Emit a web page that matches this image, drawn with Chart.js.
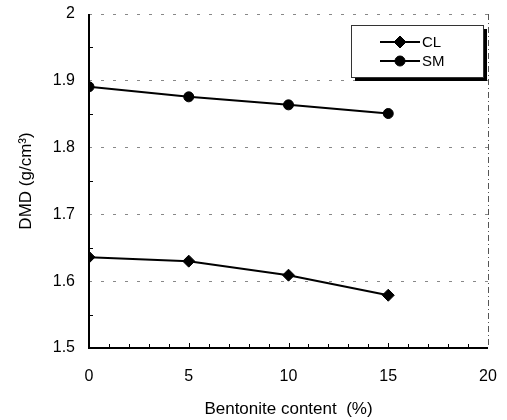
<!DOCTYPE html>
<html>
<head>
<meta charset="utf-8">
<script src="https://cdn.jsdelivr.net/npm/chart.js@4"></script>
<style>
  html, body { margin: 0; padding: 0; background: #fff; }
  #wrap { width: 507px; height: 420px; }
</style>
</head>
<body>
<div id="wrap"><canvas id="dmd-chart" width="507" height="420"></canvas></div>
<script>
// valores
const bentonita = [0, 5, 10, 15];
const dmdCL = [1.636, 1.630, 1.609, 1.579];
const dmdSM = [1.891, 1.876, 1.864, 1.851];
const xTicks = [0, 5, 10, 15, 20];
const yTicks = [1.5, 1.6, 1.7, 1.8, 1.9, 2];

const fonte = "'Liberation Sans', Arial, sans-serif";

function pontos(ys) {
  return bentonita.map((x, i) => ({ x: x, y: ys[i] }));
}

// bordas, tracinhos menores e legenda com sombra
const extras = {
  id: "extras",
  beforeDatasetsDraw(chart) {
    const { ctx, chartArea: a, scales } = chart;
    ctx.save();
    // borda da direita tracejada
    ctx.strokeStyle = "#555";
    ctx.lineWidth = 1;
    ctx.setLineDash([6, 3, 1, 3]);
    ctx.beginPath();
    ctx.moveTo(a.right + 0.5, a.top);
    ctx.lineTo(a.right + 0.5, a.bottom);
    ctx.stroke();
    // eixos esquerdo e inferior
    ctx.setLineDash([]);
    ctx.strokeStyle = "#000";
    ctx.lineWidth = 2;
    ctx.beginPath();
    ctx.moveTo(a.left, a.top);
    ctx.lineTo(a.left, a.bottom);
    ctx.lineTo(a.right, a.bottom);
    ctx.stroke();
    // tracinhos
    ctx.lineWidth = 1;
    for (let v = 1; v < 20; v++) {
      const px = Math.round(scales.x.getPixelForValue(v)) + 0.5;
      const len = v % 5 === 0 ? 5 : 4;
      ctx.beginPath();
      ctx.moveTo(px, a.bottom);
      ctx.lineTo(px, a.bottom - len);
      ctx.stroke();
    }
    for (let v = 1.55; v < 2; v += 0.1) {
      const py = Math.round(scales.y.getPixelForValue(v)) + 0.5;
      ctx.beginPath();
      ctx.moveTo(a.left, py);
      ctx.lineTo(a.left + 4, py);
      ctx.stroke();
    }
    ctx.restore();
  },
  afterDraw(chart) {
    const { ctx } = chart;
    const bx = 351, by = 25, bw = 132, bh = 52;
    ctx.save();
    ctx.fillStyle = "#000";
    ctx.fillRect(bx + 4, by + 4, bw, bh);
    ctx.fillStyle = "#fff";
    ctx.fillRect(bx, by, bw, bh);
    ctx.strokeStyle = "#333";
    ctx.lineWidth = 1;
    ctx.strokeRect(bx + 0.5, by + 0.5, bw, bh);
    ctx.font = "15px " + fonte;
    ctx.textBaseline = "middle";
    chart.data.datasets.forEach((ds, i) => {
      const y = by + 17 + i * 19;
      ctx.strokeStyle = "#000";
      ctx.fillStyle = "#000";
      ctx.lineWidth = 2;
      ctx.beginPath();
      ctx.moveTo(380, y);
      ctx.lineTo(420, y);
      ctx.stroke();
      ctx.lineWidth = 1;
      Chart.helpers.drawPoint(ctx, {
        pointStyle: ds.pointStyle,
        radius: ds.pointRadius,
        borderWidth: 1,
      }, 400, y);
      ctx.fillStyle = "#000";
      ctx.fillText(ds.label, 422, y + 1);
    });
    ctx.restore();
  },
};

new Chart(document.getElementById("dmd-chart"), {
  type: "line",
  data: {
    datasets: [
      {
        label: "CL",
        data: pontos(dmdCL),
        borderColor: "#000",
        backgroundColor: "#000",
        borderWidth: 2,
        pointStyle: "rectRot",
        pointRadius: 6,
        pointBorderWidth: 1,
      },
      {
        label: "SM",
        data: pontos(dmdSM),
        borderColor: "#000",
        backgroundColor: "#000",
        borderWidth: 2,
        pointStyle: "circle",
        pointRadius: 5,
        pointBorderWidth: 1,
      },
    ],
  },
  options: {
    responsive: false,
    animation: false,
    layout: { padding: 0 },
    plugins: { legend: { display: false }, tooltip: { enabled: false } },
    scales: {
      x: {
        type: "linear",
        min: 0,
        max: 20,
        afterBuildTicks(s) { s.ticks = xTicks.map(v => ({ value: v })); },
        afterFit(s) { s.height = 72; s.paddingRight = 19; },
        grid: { display: false, drawTicks: false },
        border: { display: false },
        ticks: { color: "#000", font: { family: fonte, size: 16 }, padding: 19 },
        title: {
          display: true,
          text: "Bentonite content  (%)",
          color: "#000",
          font: { family: fonte, size: 17 },
          padding: { top: 4, bottom: 0 },
        },
      },
      y: {
        min: 1.5,
        max: 2,
        afterBuildTicks(s) { s.ticks = yTicks.map(v => ({ value: v })); },
        afterFit(s) { s.width = 89; s.paddingTop = 14; },
        grid: {
          drawTicks: false,
          color: (c) => (c.tick && c.tick.value === 1.5 ? "rgba(0,0,0,0)" : "#888"),
          lineWidth: 1,
        },
        border: { display: false, dash: [3, 9] },
        ticks: {
          color: "#000",
          font: { family: fonte, size: 16 },
          padding: 14,
          callback: (v) => String(Math.round(v * 10) / 10),
        },
        title: {
          display: true,
          text: "DMD (g/cm\u00b3)",
          color: "#000",
          font: { family: fonte, size: 17 },
          padding: { top: 16, bottom: 0 },
        },
      },
    },
  },
  plugins: [extras],
});
</script>
</body>
</html>
